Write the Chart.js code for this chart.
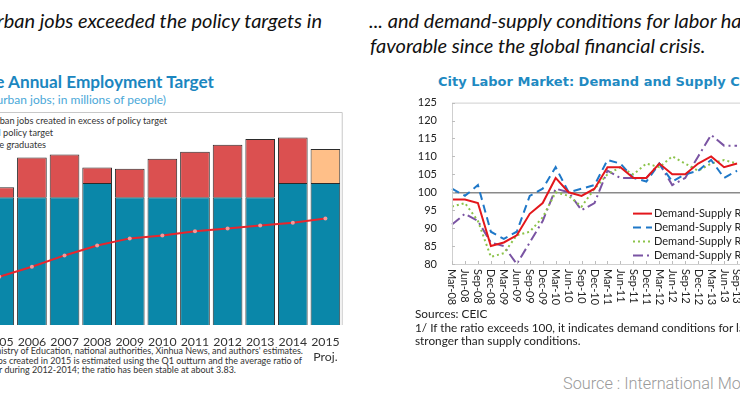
<!DOCTYPE html>
<html>
<head>
<meta charset="utf-8">
<script src="https://cdn.jsdelivr.net/npm/chart.js@4.4.1/dist/chart.umd.min.js"></script>
<style>
  html, body { margin: 0; padding: 0; background: #fff; }
  body { width: 740px; height: 395px; position: relative; overflow: hidden; font-family: Lato, sans-serif; }
  .t { position: absolute; white-space: nowrap; }
  .r { text-align: right; }
  .head { font-style: italic; font-size: 20px; line-height: 24px; color: #111; }
  canvas { position: absolute; }
</style>
</head>
<body>
<!-- left panel -->
<div class="t r head" style="right:418px; top:8px;">Newly created urban jobs exceeded the policy targets in</div>
<div class="t r" style="right:526px; top:71px; font-size:17.2px; line-height:22px; font-weight:700; color:#1b86bf;">Jobs Created Exceeded the Annual Employment Target</div>
<div class="t r" style="right:574px; top:92px; font-size:12px; line-height:16px; color:#4aa8d8;">(Number of new urban jobs; in millions of people)</div>

<div class="t r" style="right:573px; top:115px; font-size:9.2px; line-height:12px; color:#333;">New urban jobs created in excess of policy target</div>
<div class="t r" style="right:687px; top:127px; font-size:9.2px; line-height:12px; color:#333;">Annual policy target</div>
<div class="t r" style="right:694px; top:139px; font-size:9.2px; line-height:12px; color:#333;">College graduates</div>

<div class="t r" style="right:437px; top:345px; font-size:9px; line-height:12px; color:#333;">Sources: Ministry of Education, national authorities, Xinhua News, and authors' estimates.</div>
<div class="t r" style="right:438px; top:355px; font-size:9px; line-height:12px; color:#333;">Note: Number of new urban jobs created in 2015 is estimated using the Q1 outturn and the average ratio of</div>
<div class="t r" style="right:504px; top:364px; font-size:9px; line-height:12px; color:#333;">full-year to Q1 number during 2012-2014; the ratio has been stable at about 3.83.</div>

<canvas id="jobs" width="410" height="270" style="left:-60px; top:100px;"></canvas>

<!-- right panel -->
<div class="t head" style="left:369px; top:8px;">... and demand-supply conditions for labor have been</div>
<div class="t head" style="left:370px; top:33px;">favorable since the global financial crisis.</div>
<div class="t" style="left:438px; top:74px; font-family:'DejaVu Sans'; font-size:13px; line-height:16px; font-weight:700; color:#1f8ac2;">City Labor Market: Demand and Supply Conditions 1/</div>

<canvas id="labor" width="380" height="239" style="left:380px; top:81px;"></canvas>

<div class="t" style="left:415px; top:307px; font-size:11.8px; line-height:14px; color:#222;">Sources: CEIC</div>
<div class="t" style="left:415px; top:321px; font-size:11.8px; line-height:14px; color:#222;">1/ If the ratio exceeds 100, it indicates demand conditions for labor are</div>
<div class="t" style="left:415px; top:334px; font-size:11.8px; line-height:14px; color:#222;">stronger than supply conditions.</div>

<div class="t" style="left:563px; top:373px; font-family:Roboto; font-weight:300; font-size:16.3px; line-height:22px; color:#9a9a9a;">Source : International Monetary Fund</div>

<script>
// ---- left chart data (millions of people)
const years = ["2005", "2006", "2007", "2008", "2009", "2010", "2011", "2012", "2013", "2014", ["2015", "Proj."]];
const policyTarget = [9, 9, 9, 10, 9, 9, 9, 9, 9, 10, 10];
const excessJobs = [0.7, 2.8, 3.0, 1.1, 2.0, 2.7, 3.2, 3.7, 4.1, 3.2, 2.4];
const graduates = [3.4, 4.1, 4.9, 5.6, 6.1, 6.3, 6.6, 6.8, 7.0, 7.2, 7.5];

// ---- right chart data (ratio, quarterly)
const quarters = ["Mar-08", "Jun-08", "Sep-08", "Dec-08", "Mar-09", "Jun-09", "Sep-09", "Dec-09",
  "Mar-10", "Jun-10", "Sep-10", "Dec-10", "Mar-11", "Jun-11", "Sep-11", "Dec-11",
  "Mar-12", "Jun-12", "Sep-12", "Dec-12", "Mar-13", "Jun-13", "Sep-13", "Dec-13"];
const ratioTotal = [98, 98, 97, 85, 86, 88, 94, 97, 104, 100, 99, 101, 107, 107, 104, 104, 108, 105, 105, 108, 110, 107, 108, null];
const ratioEast = [101, 99, 102, 89, 87, 89, 99, 101, 107, 100, 101, 102, 109, 108, 104, 103, 108, 103, 105, 106, 109, 104, 106, null];
const ratioCentral = [96, 97, 92, 82, 83, 88, 89, 93, 100, 99, 96, 101, 105, 107, 105, 108, 107, 110, 108, 106, 108, 109, 108, null];
const ratioWest = [91, 94, 92, 86, 85, 80, 86, 92, 101, 100, 95, 97, 106, 104, 104, 104, 108, 102, 104, 110, 116, 113, 113, null];
const ratioTicks = [80, 85, 90, 95, 100, 105, 110, 115, 120, 125];

// ---- left chart
new Chart(document.getElementById("jobs").getContext("2d"), {
  type: "bar",
  data: {
    labels: years,
    datasets: [
      {
        type: "line",
        label: "College graduates",
        data: graduates,
        stack: "grad",
        borderColor: "#e8262d",
        borderWidth: 2,
        pointRadius: 2,
        pointBackgroundColor: "#f39a9a",
        pointBorderWidth: 0,
        tension: 0,
        order: 0,
      },
      {
        label: "Annual policy target",
        data: policyTarget,
        stack: "jobs",
        backgroundColor: "#0a87a9",
        borderColor: "#2b2b2b",
        borderWidth: 1,
        order: 1,
      },
      {
        label: "New urban jobs created in excess of policy target",
        data: excessJobs,
        stack: "jobs",
        backgroundColor: years.map((y, i) => (i === years.length - 1 ? "#ffbf88" : "#db5050")),
        borderColor: "#2b2b2b",
        borderWidth: 1,
        order: 1,
      },
    ],
  },
  options: {
    responsive: false,
    animation: false,
    layout: { padding: { left: 43, right: 7, top: 12, bottom: 0 } },
    datasets: { bar: { barPercentage: 0.91, categoryPercentage: 1 } },
    plugins: { legend: { display: false }, tooltip: { enabled: false } },
    scales: {
      x: {
        stacked: true,
        grid: { display: false, drawTicks: false },
        border: { display: false },
        ticks: { color: "#333", font: { family: "Lato", size: 12.3 }, padding: 10, maxRotation: 0, autoSkip: false },
        afterFit: (scale) => { scale.height = 45; },
      },
      y: { stacked: true, display: false, min: 0, max: 15 },
    },
  },
  plugins: [{
    id: "frame",
    afterDraw(chart) {
      const { ctx, chartArea } = chart;
      ctx.save();
      ctx.strokeStyle = "#c8c8c8";
      ctx.lineWidth = 1;
      ctx.beginPath();
      ctx.moveTo(chartArea.left, chartArea.top + 0.5);
      ctx.lineTo(chartArea.right + 0.5, chartArea.top + 0.5);
      ctx.lineTo(chartArea.right + 0.5, chartArea.bottom);
      ctx.stroke();
      ctx.restore();
    },
  }],
});

// ---- right chart
const laborPlugin = {
  id: "laborDecor",
  afterDraw(chart) {
    const { ctx, chartArea, scales } = chart;
    ctx.save();
    // frame
    ctx.strokeStyle = "#cfcfcf";
    ctx.lineWidth = 1;
    ctx.strokeRect(chartArea.left + 0.5, chartArea.top + 0.5, chartArea.right - chartArea.left, chartArea.bottom - chartArea.top);
    // small inner tick marks
    ctx.strokeStyle = "#bdbdbd";
    ctx.beginPath();
    ratioTicks.forEach((v) => {
      const y = Math.round(scales.y.getPixelForValue(v)) + 0.5;
      ctx.moveTo(chartArea.left, y);
      ctx.lineTo(chartArea.left + 3, y);
    });
    quarters.forEach((q, i) => {
      const x = Math.round(scales.x.getPixelForTick(i)) + 0.5;
      ctx.moveTo(x, chartArea.bottom);
      ctx.lineTo(x, chartArea.bottom - 3);
    });
    ctx.stroke();
    // rotated category labels reading downward
    ctx.fillStyle = "#222";
    ctx.font = "11px Lato";
    ctx.textAlign = "left";
    ctx.textBaseline = "middle";
    quarters.forEach((q, i) => {
      const x = scales.x.getPixelForTick(i);
      ctx.save();
      ctx.translate(x, chartArea.bottom + 5);
      ctx.rotate(Math.PI / 2);
      ctx.fillText(q, 0, 0);
      ctx.restore();
    });
    // legend inside the plot
    ctx.font = "11px Lato";
    chart.data.datasets.forEach((ds, i) => {
      const y = chartArea.top + 111 + i * 14;
      const x0 = chartArea.left + 181;
      ctx.strokeStyle = ds.borderColor;
      ctx.lineWidth = ds.borderWidth;
      ctx.setLineDash(ds.borderDash || []);
      ctx.beginPath();
      ctx.moveTo(x0, y);
      ctx.lineTo(x0 + 19, y);
      ctx.stroke();
      ctx.setLineDash([]);
      ctx.fillStyle = "#222";
      ctx.fillText(ds.label, x0 + 21, y);
    });
    ctx.restore();
  },
};

new Chart(document.getElementById("labor").getContext("2d"), {
  type: "line",
  data: {
    labels: quarters,
    datasets: [
      { label: "Demand-Supply Ratio 1/", data: ratioTotal, borderColor: "#e3171c", borderWidth: 2 },
      { label: "Demand-Supply Ratio: East", data: ratioEast, borderColor: "#1f78c8", borderWidth: 2, borderDash: [8, 5] },
      { label: "Demand-Supply Ratio: Central", data: ratioCentral, borderColor: "#8cc34a", borderWidth: 2, borderDash: [2, 3] },
      { label: "Demand-Supply Ratio: West", data: ratioWest, borderColor: "#7a54a3", borderWidth: 2, borderDash: [10, 4, 2, 4] },
    ],
  },
  options: {
    responsive: false,
    animation: false,
    layout: { padding: { left: 0, right: 10, top: 3, bottom: 0 } },
    elements: { point: { radius: 0 }, line: { tension: 0 } },
    plugins: { legend: { display: false }, tooltip: { enabled: false } },
    scales: {
      x: {
        offset: false,
        grid: { display: false, drawTicks: false },
        border: { display: false },
        ticks: { display: false },
        afterFit: (scale) => { scale.height = 56; },
      },
      y: {
        min: 80,
        max: 125,
        afterBuildTicks: (scale) => { scale.ticks = ratioTicks.map((v) => ({ value: v })); },
        grid: {
          drawTicks: false,
          color: (c) => (c.tick && c.tick.value === 100 ? "#8a8a8a" : "rgba(0,0,0,0)"),
          lineWidth: 1.5,
        },
        border: { display: false },
        ticks: { color: "#222", font: { family: "Lato", size: 11 }, padding: 15 },
        afterFit: (scale) => { scale.width = 72; },
      },
    },
  },
  plugins: [laborPlugin],
});
</script>
</body>
</html>
